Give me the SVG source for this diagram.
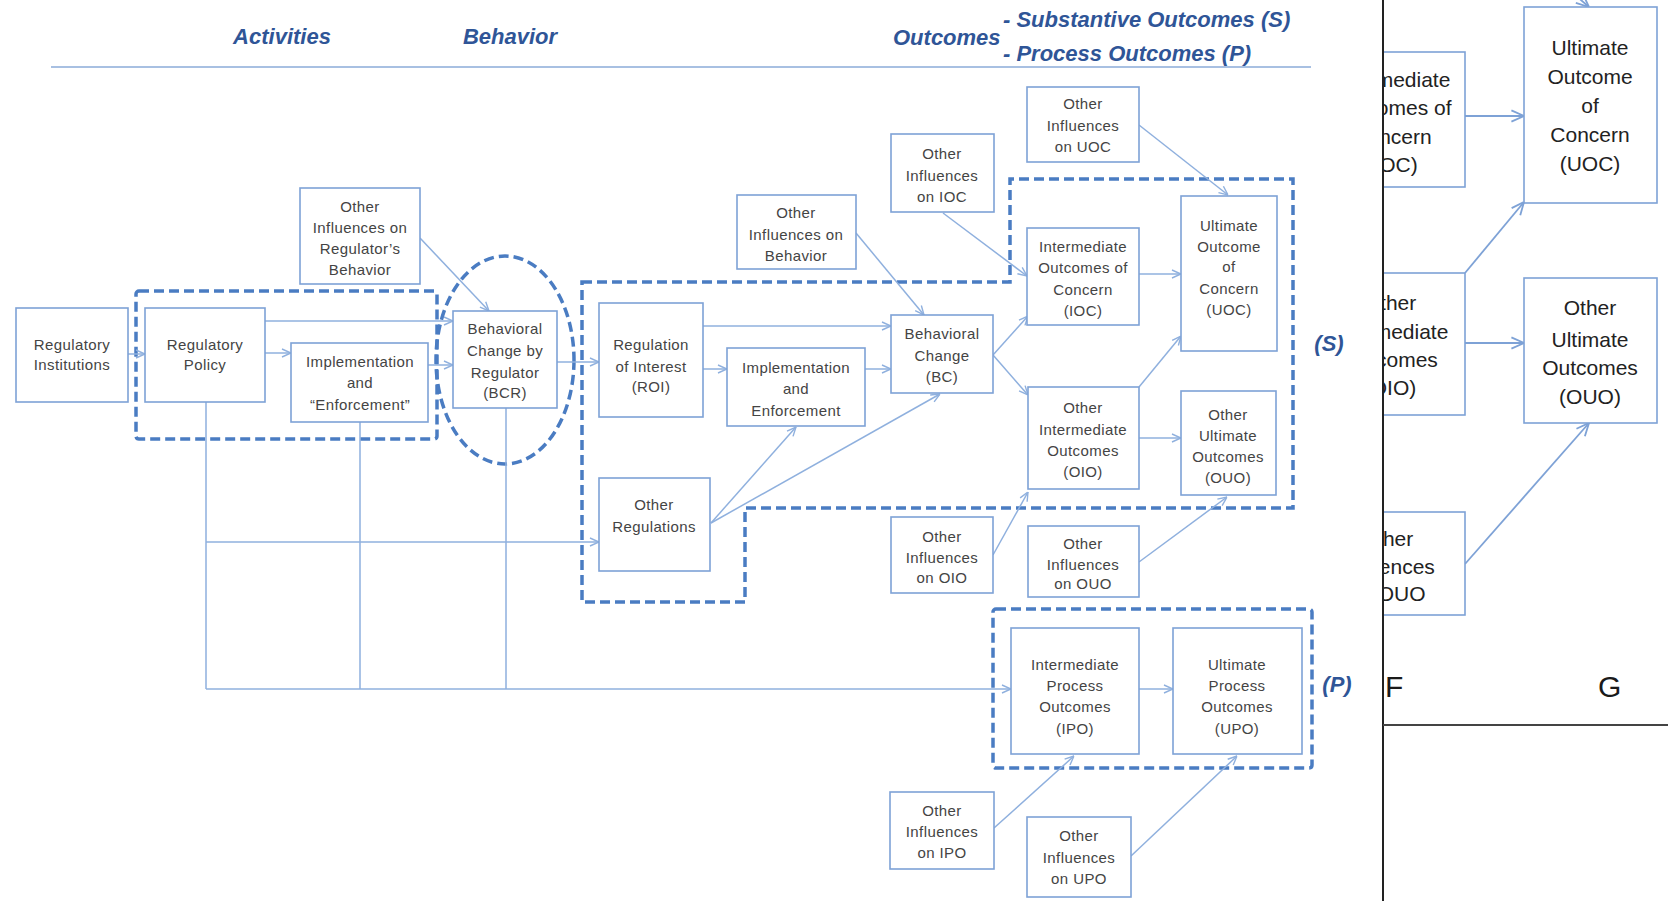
<svg xmlns="http://www.w3.org/2000/svg" width="1668" height="901" viewBox="0 0 1668 901">
<defs>
<style>
.hd{font-family:"Liberation Sans",Arial,sans-serif;font-weight:bold;font-style:italic;font-size:22px;fill:#2f5597}
.bx{fill:#fff;stroke:#7ea2d6;stroke-width:1.6}
.t{font-family:"Liberation Sans",Arial,sans-serif;font-size:15px;letter-spacing:0.4px;fill:#444;text-anchor:middle}
.tb{font-family:"Liberation Sans",Arial,sans-serif;font-size:21px;fill:#222;text-anchor:middle}
.c{fill:none;stroke:#8fb0de;stroke-width:1.5}
.ca{fill:none;stroke:#8fb0de;stroke-width:1.5;marker-end:url(#ah)}
.cb{fill:none;stroke:#7ea2d6;stroke-width:1.8;marker-end:url(#ahb)}
.dash{fill:none;stroke:#4a7cc2;stroke-width:3.5;stroke-dasharray:10 5}
</style>
<marker id="ah" viewBox="0 0 10 10" refX="10" refY="5" markerWidth="10" markerHeight="10" markerUnits="userSpaceOnUse" orient="auto"><path d="M1,1 L10,5 L1,9" fill="none" stroke="#8fb0de" stroke-width="1.4"/></marker>
<marker id="ahb" viewBox="0 0 10 10" refX="10" refY="5" markerWidth="14" markerHeight="14" markerUnits="userSpaceOnUse" orient="auto"><path d="M1,1 L10,5 L1,9" fill="none" stroke="#7ea2d6" stroke-width="1.3"/></marker>
<clipPath id="panel"><rect x="1384" y="0" width="284" height="901"/></clipPath>
</defs>
<rect x="0" y="0" width="1668" height="901" fill="#fff"/>

<g id="header">
<text class="hd" x="282" y="44" text-anchor="middle">Activities</text>
<text class="hd" x="510" y="44" text-anchor="middle">Behavior</text>
<text class="hd" x="893" y="45">Outcomes</text>
<text class="hd" x="1003" y="27">- Substantive Outcomes (S)</text>
<text class="hd" x="1003" y="61">- Process Outcomes (P)</text>
<line x1="51" y1="67" x2="1311" y2="67" stroke="#a8c0e2" stroke-width="2"/>
<text class="hd" x="1329" y="351" text-anchor="middle">(S)</text>
<text class="hd" x="1337" y="692" text-anchor="middle">(P)</text>
</g>

<g id="groups">
<rect class="dash" x="136" y="291" width="301" height="148" rx="3"/>
<ellipse class="dash" cx="505" cy="360" rx="69" ry="104"/>
<path class="dash" d="M582,282 L1010,282 L1010,179 L1293,179 L1293,508 L745,508 L745,602 L582,602 Z"/>
<rect class="dash" x="993" y="609" width="319" height="159" rx="3"/>
</g>

<g id="connectors">
<line class="ca" x1="128" y1="354" x2="145" y2="354"/>
<line class="ca" x1="265" y1="353" x2="291" y2="353"/>
<line class="ca" x1="265" y1="321" x2="453" y2="321"/>
<line class="ca" x1="428" y1="365" x2="453" y2="365"/>
<line class="ca" x1="420" y1="238" x2="489" y2="311"/>
<line class="ca" x1="557" y1="362" x2="599" y2="362"/>
<line class="ca" x1="703" y1="326" x2="891" y2="326"/>
<line class="ca" x1="703" y1="369" x2="727" y2="369"/>
<line class="ca" x1="865" y1="369" x2="891" y2="369"/>
<line class="ca" x1="711" y1="523" x2="796" y2="427"/>
<line class="ca" x1="711" y1="523" x2="940" y2="394"/>
<line class="ca" x1="856" y1="233" x2="924" y2="315"/>
<line class="ca" x1="943" y1="213" x2="1027" y2="276"/>
<line class="ca" x1="1139" y1="125" x2="1228" y2="195"/>
<line class="ca" x1="993" y1="355" x2="1028" y2="316"/>
<line class="ca" x1="993" y1="355" x2="1028" y2="395"/>
<line class="ca" x1="1139" y1="274" x2="1181" y2="274"/>
<line class="ca" x1="1139" y1="387" x2="1181" y2="336"/>
<line class="ca" x1="1139" y1="438" x2="1181" y2="438"/>
<line class="ca" x1="993" y1="555" x2="1028" y2="492"/>
<line class="ca" x1="1139" y1="562" x2="1227" y2="497"/>
<path class="c" d="M206,402 L206,689 M360,422 L360,689 M506,408 L506,689"/>
<line class="ca" x1="206" y1="689" x2="1011" y2="689"/>
<line class="ca" x1="206" y1="542" x2="599" y2="542"/>
<line class="ca" x1="1139" y1="689" x2="1173" y2="689"/>
<line class="ca" x1="994" y1="828" x2="1074" y2="756"/>
<line class="ca" x1="1131" y1="856" x2="1237" y2="756"/>
<line class="cb" x1="1465" y1="116" x2="1524" y2="116"/>
<line class="cb" x1="1465" y1="273" x2="1524" y2="202"/>
<line class="cb" x1="1465" y1="343" x2="1524" y2="343"/>
<line class="cb" x1="1465" y1="564" x2="1589" y2="423"/>
<line class="cb" x1="1574" y1="-6" x2="1589" y2="7"/>
</g>

<g id="n-ri"><rect class="bx" x="16" y="308" width="112" height="94"/><text class="t" x="72" y="350">Regulatory</text><text class="t" x="72" y="370">Institutions</text></g>
<g id="n-rp"><rect class="bx" x="145" y="308" width="120" height="94"/><text class="t" x="205" y="350">Regulatory</text><text class="t" x="205" y="370">Policy</text></g>
<g id="n-impl"><rect class="bx" x="291" y="343" width="137" height="79"/><text class="t" x="360" y="367">Implementation</text><text class="t" x="360" y="388">and</text><text class="t" x="360" y="410">“Enforcement”</text></g>
<g id="n-oireg"><rect class="bx" x="300" y="188" width="120" height="96"/><text class="t" x="360" y="212">Other</text><text class="t" x="360" y="233">Influences on</text><text class="t" x="360" y="254">Regulator’s</text><text class="t" x="360" y="275">Behavior</text></g>
<g id="n-bcr"><rect class="bx" x="453" y="311" width="104" height="97"/><text class="t" x="505" y="334">Behavioral</text><text class="t" x="505" y="356">Change by</text><text class="t" x="505" y="378">Regulator</text><text class="t" x="505" y="398">(BCR)</text></g>
<g id="n-roi"><rect class="bx" x="599" y="303" width="104" height="114"/><text class="t" x="651" y="350">Regulation</text><text class="t" x="651" y="372">of Interest</text><text class="t" x="651" y="392">(ROI)</text></g>
<g id="n-impl2"><rect class="bx" x="727" y="348" width="138" height="78"/><text class="t" x="796" y="373">Implementation</text><text class="t" x="796" y="394">and</text><text class="t" x="796" y="416">Enforcement</text></g>
<g id="n-oreg"><rect class="bx" x="599" y="478" width="111" height="93"/><text class="t" x="654" y="510">Other</text><text class="t" x="654" y="532">Regulations</text></g>
<g id="n-oibeh"><rect class="bx" x="737" y="195" width="119" height="74"/><text class="t" x="796" y="218">Other</text><text class="t" x="796" y="240">Influences on</text><text class="t" x="796" y="261">Behavior</text></g>
<g id="n-bc"><rect class="bx" x="891" y="315" width="102" height="78"/><text class="t" x="942" y="339">Behavioral</text><text class="t" x="942" y="361">Change</text><text class="t" x="942" y="382">(BC)</text></g>
<g id="n-oiioc"><rect class="bx" x="891" y="134" width="103" height="78"/><text class="t" x="942" y="159">Other</text><text class="t" x="942" y="181">Influences</text><text class="t" x="942" y="202">on IOC</text></g>
<g id="n-oiuoc"><rect class="bx" x="1027" y="87" width="112" height="75"/><text class="t" x="1083" y="109">Other</text><text class="t" x="1083" y="131">Influences</text><text class="t" x="1083" y="152">on UOC</text></g>
<g id="n-ioc"><rect class="bx" x="1027" y="228" width="112" height="97"/><text class="t" x="1083" y="252">Intermediate</text><text class="t" x="1083" y="273">Outcomes of</text><text class="t" x="1083" y="295">Concern</text><text class="t" x="1083" y="316">(IOC)</text></g>
<g id="n-uoc"><rect class="bx" x="1181" y="196" width="96" height="155"/><text class="t" x="1229" y="231">Ultimate</text><text class="t" x="1229" y="252">Outcome</text><text class="t" x="1229" y="272">of</text><text class="t" x="1229" y="294">Concern</text><text class="t" x="1229" y="315">(UOC)</text></g>
<g id="n-oio"><rect class="bx" x="1028" y="387" width="111" height="102"/><text class="t" x="1083" y="413">Other</text><text class="t" x="1083" y="435">Intermediate</text><text class="t" x="1083" y="456">Outcomes</text><text class="t" x="1083" y="477">(OIO)</text></g>
<g id="n-ouo"><rect class="bx" x="1181" y="391" width="95" height="104"/><text class="t" x="1228" y="420">Other</text><text class="t" x="1228" y="441">Ultimate</text><text class="t" x="1228" y="462">Outcomes</text><text class="t" x="1228" y="483">(OUO)</text></g>
<g id="n-oioio"><rect class="bx" x="891" y="517" width="102" height="76"/><text class="t" x="942" y="542">Other</text><text class="t" x="942" y="563">Influences</text><text class="t" x="942" y="583">on OIO</text></g>
<g id="n-oiouo"><rect class="bx" x="1028" y="526" width="111" height="71"/><text class="t" x="1083" y="549">Other</text><text class="t" x="1083" y="570">Influences</text><text class="t" x="1083" y="589">on OUO</text></g>
<g id="n-ipo"><rect class="bx" x="1011" y="628" width="128" height="126"/><text class="t" x="1075" y="670">Intermediate</text><text class="t" x="1075" y="691">Process</text><text class="t" x="1075" y="712">Outcomes</text><text class="t" x="1075" y="734">(IPO)</text></g>
<g id="n-upo"><rect class="bx" x="1173" y="628" width="129" height="126"/><text class="t" x="1237" y="670">Ultimate</text><text class="t" x="1237" y="691">Process</text><text class="t" x="1237" y="712">Outcomes</text><text class="t" x="1237" y="734">(UPO)</text></g>
<g id="n-oiipo"><rect class="bx" x="890" y="792" width="104" height="77"/><text class="t" x="942" y="816">Other</text><text class="t" x="942" y="837">Influences</text><text class="t" x="942" y="858">on IPO</text></g>
<g id="n-oiupo"><rect class="bx" x="1027" y="817" width="104" height="80"/><text class="t" x="1079" y="841">Other</text><text class="t" x="1079" y="863">Influences</text><text class="t" x="1079" y="884">on UPO</text></g>

<g id="panel-right">
<g clip-path="url(#panel)">
<g id="p-ioc"><rect class="bx" x="1330" y="52" width="135" height="135" stroke-width="2"/><text class="tb" x="1392" y="87">Intermediate</text><text class="tb" x="1392" y="115">Outcomes of</text><text class="tb" x="1392" y="144">Concern</text><text class="tb" x="1392" y="172">(IOC)</text></g>
<g id="p-oio"><rect class="bx" x="1330" y="273" width="135" height="142" stroke-width="2"/><text class="tb" x="1390" y="310">Other</text><text class="tb" x="1390" y="339">Intermediate</text><text class="tb" x="1390" y="367">Outcomes</text><text class="tb" x="1390" y="395">(OIO)</text></g>
<g id="p-oiouo"><rect class="bx" x="1330" y="512" width="135" height="103" stroke-width="2"/><text class="tb" x="1387" y="546">Other</text><text class="tb" x="1387" y="574">Influences</text><text class="tb" x="1387" y="601">on OUO</text></g>
</g>
<g id="p-uoc"><rect class="bx" x="1524" y="7" width="133" height="196" stroke-width="2"/><text class="tb" x="1590" y="55">Ultimate</text><text class="tb" x="1590" y="84">Outcome</text><text class="tb" x="1590" y="113">of</text><text class="tb" x="1590" y="142">Concern</text><text class="tb" x="1590" y="171">(UOC)</text></g>
<g id="p-ouo"><rect class="bx" x="1524" y="278" width="133" height="145" stroke-width="2"/><text class="tb" x="1590" y="315">Other</text><text class="tb" x="1590" y="347">Ultimate</text><text class="tb" x="1590" y="375">Outcomes</text><text class="tb" x="1590" y="404">(OUO)</text></g>
<line x1="1383" y1="0" x2="1383" y2="901" stroke="#222" stroke-width="2"/>
<line x1="1383" y1="725" x2="1668" y2="725" stroke="#444" stroke-width="2"/>
<text x="1385" y="697" font-family="'Liberation Sans',Arial,sans-serif" font-size="30" fill="#1a1a1a">F</text>
<text x="1598" y="697" font-family="'Liberation Sans',Arial,sans-serif" font-size="30" fill="#1a1a1a">G</text>
</g>
</svg>
